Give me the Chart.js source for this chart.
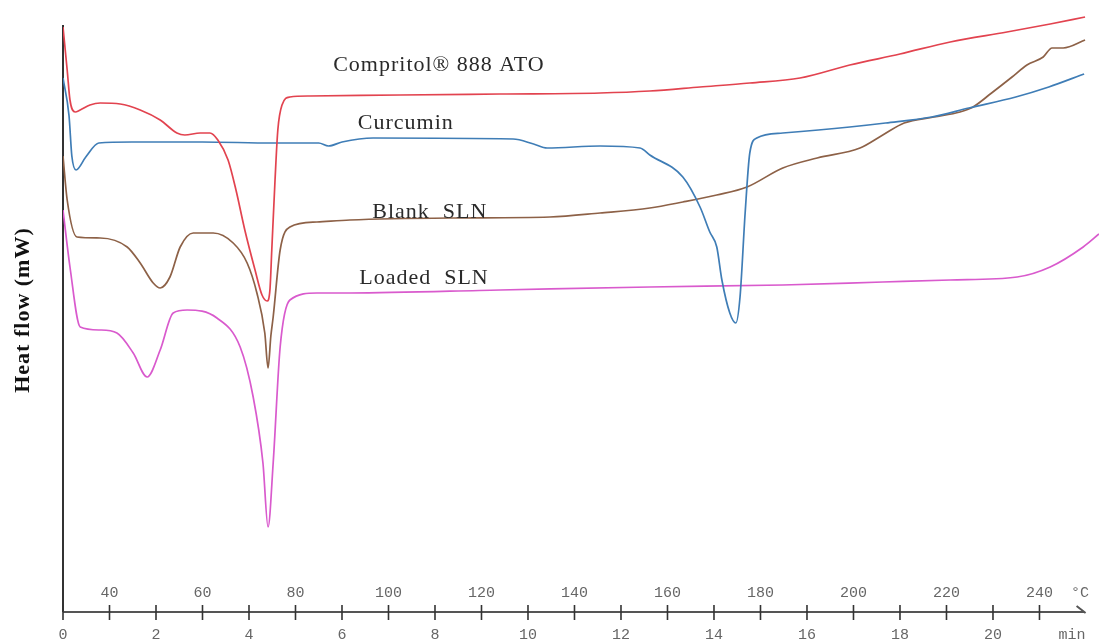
<!DOCTYPE html>
<html>
<head>
<meta charset="utf-8">
<title>DSC thermograms</title>
<script src="https://cdn.jsdelivr.net/npm/chart.js@4.4.1/dist/chart.umd.min.js"></script>
<style>
  html, body { margin: 0; padding: 0; background: #fff; }
  #wrap { width: 1099px; height: 643px; position: relative; }
</style>
</head>
<body>
<div id="wrap"><canvas id="dsc"></canvas></div>
<script>
// Time axis in minutes, heat flow in arbitrary mW units (curves are offset for clarity)
const compritolTime = [0.00, 0.09, 0.15, 0.26, 0.37, 0.58, 0.80, 1.23, 1.66, 2.09, 2.45, 2.62, 2.95, 3.16, 3.33, 3.55, 3.72, 3.91, 4.13, 4.28, 4.39, 4.45, 4.49, 4.56, 4.62, 4.71, 4.88, 5.31, 7.25, 9.40, 11.55, 12.62, 13.70, 14.77, 15.85, 16.92, 18.00, 19.08, 20.30, 21.23, 21.98];
const compritolFlow = [5.79, 5.36, 5.06, 4.94, 4.96, 5.01, 5.03, 5.02, 4.96, 4.86, 4.73, 4.71, 4.73, 4.73, 4.66, 4.46, 4.16, 3.76, 3.36, 3.11, 3.05, 3.16, 3.56, 4.26, 4.76, 5.01, 5.09, 5.10, 5.11, 5.12, 5.13, 5.15, 5.19, 5.23, 5.28, 5.41, 5.52, 5.64, 5.74, 5.82, 5.89];

const curcuminTime = [0.00, 0.13, 0.19, 0.28, 0.49, 0.77, 1.48, 3.00, 4.50, 5.50, 5.71, 6.00, 6.67, 9.68, 10.12, 10.41, 11.55, 12.41, 12.62, 13.33, 13.70, 13.91, 14.06, 14.17, 14.34, 14.47, 14.56, 14.67, 14.77, 14.92, 15.48, 16.92, 17.69, 18.68, 19.48, 20.49, 21.20, 21.96];
const curcuminFlow = [5.28, 4.90, 4.50, 4.36, 4.49, 4.63, 4.64, 4.64, 4.63, 4.63, 4.60, 4.64, 4.68, 4.67, 4.62, 4.58, 4.60, 4.58, 4.51, 4.29, 3.99, 3.74, 3.59, 3.26, 2.93, 2.83, 3.09, 3.93, 4.53, 4.68, 4.73, 4.79, 4.83, 4.89, 4.98, 5.09, 5.19, 5.32];

const blankTime = [0.00, 0.09, 0.30, 0.80, 1.38, 1.66, 1.94, 2.09, 2.30, 2.52, 2.80, 3.23, 3.66, 3.96, 4.17, 4.34, 4.41, 4.47, 4.52, 4.67, 4.88, 5.46, 6.17, 8.32, 10.47, 11.55, 12.62, 13.33, 14.06, 14.71, 15.48, 16.22, 17.14, 17.63, 18.09, 18.73, 19.29, 19.57, 19.97, 20.41, 20.73, 21.08, 21.27, 21.51, 21.98];
const blankFlow = [4.50, 4.06, 3.69, 3.68, 3.59, 3.43, 3.23, 3.18, 3.29, 3.59, 3.73, 3.73, 3.63, 3.43, 3.13, 2.73, 2.38, 2.70, 2.89, 3.56, 3.79, 3.84, 3.86, 3.88, 3.89, 3.93, 3.98, 4.04, 4.11, 4.19, 4.38, 4.48, 4.58, 4.71, 4.83, 4.89, 4.94, 4.99, 5.13, 5.29, 5.41, 5.49, 5.58, 5.58, 5.66];

const loadedTime = [0.00, 0.15, 0.37, 0.80, 1.16, 1.51, 1.81, 2.09, 2.37, 2.67, 3.31, 3.81, 4.09, 4.30, 4.41, 4.52, 4.67, 4.88, 5.46, 6.17, 9.40, 12.62, 15.48, 17.63, 19.08, 20.52, 21.23, 21.94, 22.28];
const loadedFlow = [3.96, 3.39, 2.79, 2.76, 2.73, 2.53, 2.29, 2.56, 2.93, 2.96, 2.88, 2.59, 2.09, 1.43, 0.79, 1.43, 2.59, 3.06, 3.13, 3.13, 3.16, 3.19, 3.21, 3.24, 3.26, 3.29, 3.39, 3.59, 3.72];

// Axis ticks: minutes below the axis, sample temperature above it
const minuteTicks = [0, 1, 2, 3, 4, 5, 6, 7, 8, 9, 10, 11, 12, 13, 14, 15, 16, 17, 18, 19, 20, 21];
const tempLabels = [40, 60, 80, 100, 120, 140, 160, 180, 200, 220, 240];
const startTemp = 30;   // °C at t = 0
const heatingRate = 10; // °C per minute

const seriesNames = ['Compritol\u00AE 888 ATO', 'Curcumin', 'Blank  SLN', 'Loaded  SLN'];
const seriesColors = ['#e2434f', '#3f7db6', '#8d6147', '#d95acd'];

// where each curve name is written, in (min, mW)
const nameAnchors = [
    { t: 5.81, f: 5.41 },
    { t: 6.34, f: 4.83 },
    { t: 6.65, f: 3.94 },
    { t: 6.37, f: 3.28 },
];

const axisEndMin = 21.97;
const yAxisTop = 5.81;

function toPoints(times, flows) {
    return times.map((t, i) => ({ x: t, y: flows[i] }));
}

const dscAxes = {
    id: 'dscAxes',
    beforeDatasetsDraw(chart) {
        const { ctx, chartArea } = chart;
        const xs = chart.scales.x;
        const ys = chart.scales.y;
        const base = chartArea.bottom;
        const x0 = xs.getPixelForValue(0);
        const xEnd = xs.getPixelForValue(axisEndMin);

        ctx.save();
        // vertical heat-flow axis
        ctx.strokeStyle = '#333';
        ctx.lineWidth = 2;
        ctx.beginPath();
        ctx.moveTo(x0, ys.getPixelForValue(yAxisTop));
        ctx.lineTo(x0, base);
        ctx.stroke();

        // time axis with end hook
        ctx.strokeStyle = '#555';
        ctx.lineWidth = 2;
        ctx.beginPath();
        ctx.moveTo(x0, base);
        ctx.lineTo(xEnd, base);
        ctx.moveTo(xEnd - 8, base - 6);
        ctx.lineTo(xEnd + 1, base + 1);
        ctx.stroke();

        ctx.strokeStyle = '#333';
        ctx.lineWidth = 1.6;
        minuteTicks.forEach((m) => {
            const px = xs.getPixelForValue(m);
            ctx.beginPath();
            ctx.moveTo(px, base - 7);
            ctx.lineTo(px, base + 8);
            ctx.stroke();
        });

        ctx.fillStyle = '#666';
        ctx.font = '15px "Liberation Mono", "DejaVu Sans Mono", monospace';
        ctx.textAlign = 'center';
        ctx.textBaseline = 'middle';
        tempLabels.forEach((temp) => {
            ctx.fillText(String(temp), xs.getPixelForValue((temp - startTemp) / heatingRate), base - 19);
        });
        ctx.fillText('\u00B0C', xs.getPixelForValue(21.87), base - 19);
        ctx.fillText('min', xs.getPixelForValue(21.7), base + 23);
        ctx.restore();
    },
    afterDraw(chart) {
        const { ctx } = chart;
        const xs = chart.scales.x;
        const ys = chart.scales.y;
        ctx.save();
        ctx.fillStyle = '#2a2a2a';
        ctx.font = '22px "Liberation Serif", "DejaVu Serif", serif';
        ctx.letterSpacing = '1px';
        ctx.textAlign = 'left';
        ctx.textBaseline = 'middle';
        nameAnchors.forEach((a, i) => {
            ctx.fillText(seriesNames[i], xs.getPixelForValue(a.t), ys.getPixelForValue(a.f));
        });

        // heat-flow axis title
        ctx.fillStyle = '#111';
        ctx.font = 'bold 22px "Liberation Serif", "DejaVu Serif", serif';
        ctx.textAlign = 'center';
        ctx.translate(23, 310);
        ctx.rotate(-Math.PI / 2);
        ctx.fillText('Heat flow (mW)', 0, 0);
        ctx.restore();
    },
};

const datasets = [
    toPoints(compritolTime, compritolFlow),
    toPoints(curcuminTime, curcuminFlow),
    toPoints(blankTime, blankFlow),
    toPoints(loadedTime, loadedFlow),
].map((pts, i) => ({
    label: seriesNames[i],
    data: pts,
    borderColor: seriesColors[i],
    borderWidth: 1.7,
    pointRadius: 0,
    cubicInterpolationMode: 'monotone',
    fill: false,
}));

new Chart(document.getElementById('dsc'), {
    type: 'line',
    data: { datasets },
    options: {
        responsive: true,
        maintainAspectRatio: false,
        animation: false,
        layout: { padding: { left: 63, right: 0, top: 0, bottom: 0 } },
        plugins: {
            legend: { display: false },
            tooltip: { enabled: false },
        },
        scales: {
            x: {
                type: 'linear',
                min: 0,
                max: 22.28,
                grid: { display: false, drawTicks: false },
                border: { display: false },
                afterBuildTicks(scale) {
                    scale.ticks = minuteTicks.map((m) => ({ value: m }));
                },
                afterFit(scale) {
                    scale.height = 31;
                },
                ticks: {
                    autoSkip: false,
                    maxRotation: 0,
                    padding: 14,
                    color: '#666',
                    font: { family: '"Liberation Mono", "DejaVu Sans Mono", monospace', size: 15 },
                    callback: (v) => (v % 2 === 0 ? String(v) : ''),
                },
            },
            y: {
                display: false,
                min: -0.06,
                max: 6.06,
            },
        },
    },
    plugins: [dscAxes],
});
</script>
</body>
</html>
